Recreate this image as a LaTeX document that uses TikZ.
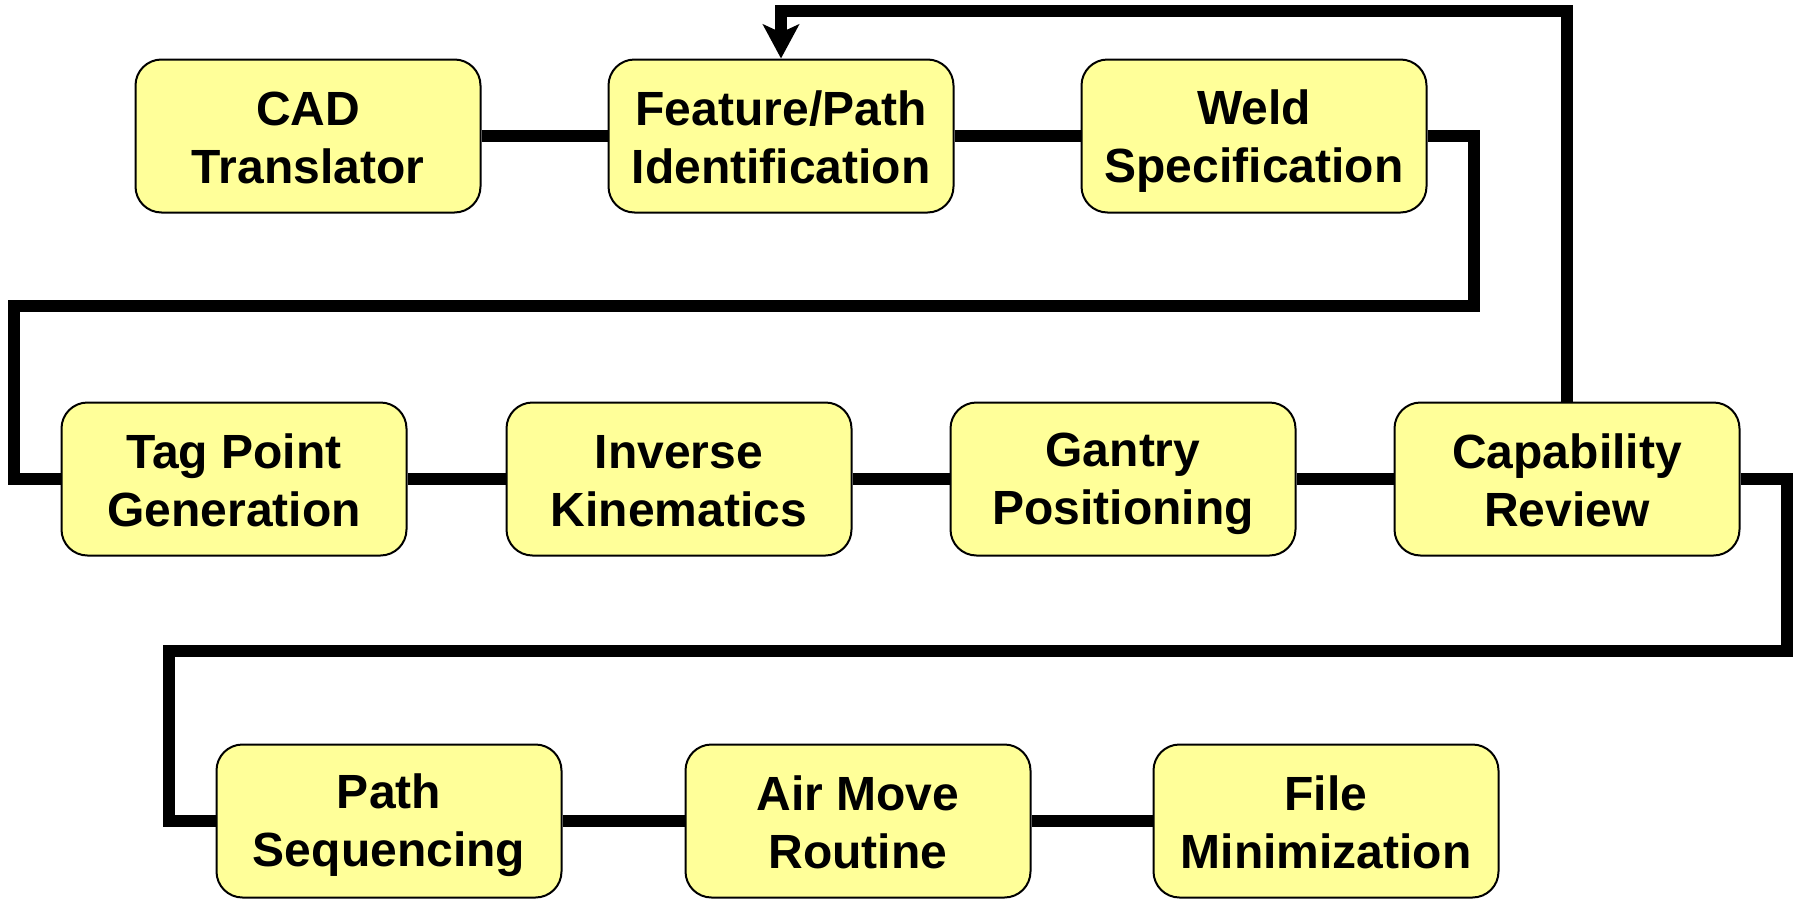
\documentclass[tikz,border=0pt]{standalone}
\usepackage{fontspec}
\setmainfont{Liberation Sans}
\usetikzlibrary{arrows.meta}
\definecolor{stageyellow}{HTML}{FFFF99}
% fixed line height, so every box sets its two lines at the same place
\newcommand\stagestrut{\rule[-4pt]{0pt}{26pt}}
\newcommand\twolines[2]{\stagestrut#1\\\stagestrut#2}
\begin{document}
\begin{tikzpicture}[x=0.5pt,y=-0.5pt,
        stage/.style={draw,line width=1pt,fill=stageyellow,rounded corners=13pt,
            minimum width=172.5pt,minimum height=76.5pt,align=center,
            font=\fontsize{24}{29}\selectfont\bfseries},
        flow/.style={line width=5.75pt}]
        \useasboundingbox (0,0) rectangle (1800,905);

        % first row
        \node[stage] (cad) at (308,136){\twolines{CAD}{Translator}};
        \node[stage] (feat) at (781,136){\twolines{Feature/Path}{Identification}};
        \node[stage] (weld) at (1254,136){\twolines{Weld}{Specification}};
        % second row
        \node[stage] (tag) at (234,479){\twolines{Tag Point}{Generation}};
        \node[stage] (ik) at (679,479){\twolines{Inverse}{Kinematics}};
        \node[stage] (gantry) at (1123,479){\twolines{Gantry}{Positioning}};
        \node[stage] (capab) at (1567,479){\twolines{Capability}{Review}};
        % third row
        \node[stage] (pathseq) at (389,821){\twolines{Path}{Sequencing}};
        \node[stage] (airmove) at (858,821){\twolines{Air Move}{Routine}};
        \node[stage] (filemin) at (1326,821){\twolines{File}{Minimization}};

        \coordinate (loop) at (1000,11);

        \draw[flow] (cad) -- (feat);
        \draw[flow] (feat) -- (weld);
        \draw[flow] (weld.east) -| (1474,306) -| (14,479) -- (tag.west);
        \draw[flow] (tag) -- (ik);
        \draw[flow] (ik) -- (gantry);
        \draw[flow] (gantry) -- (capab);
        \draw[flow] (capab.east) -| (1787,651) -| (169,821) -- (pathseq.west);
        \draw[flow] (pathseq) -- (airmove);
        \draw[flow] (airmove) -- (filemin);
        % back to feature identification
        \draw[flow,-{Stealth[length=17pt,width=18pt,inset=4pt]}] (capab.north) |- (loop) -| (feat.north);
    \end{tikzpicture}
\end{document}
